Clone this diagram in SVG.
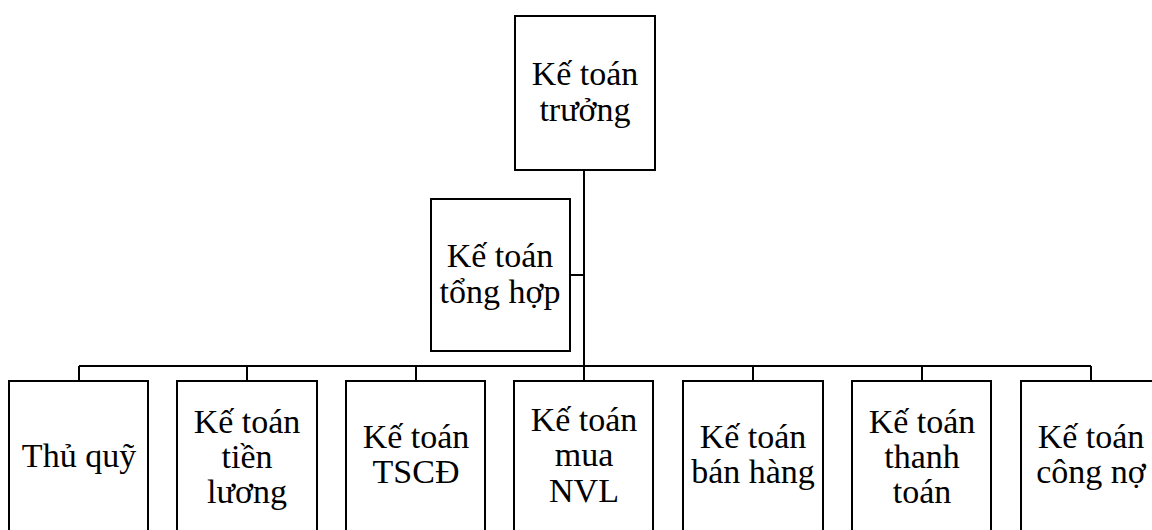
<svg xmlns="http://www.w3.org/2000/svg" width="1152" height="530" viewBox="0 0 1152 530">
<style>
.box{fill:#fff;stroke:#000;stroke-width:2}
.ln{stroke:#000;stroke-width:2;fill:none}
text{font-family:"Liberation Serif","Times New Roman",serif;font-size:34px;fill:#000;text-anchor:middle}
</style>
<rect width="1152" height="530" fill="#fff"/>
<g id="connectors">
<path class="ln" d="M584,170V366M570,275H584M79,366H1091M79,366V381M247,366V381M416,366V381M584,366V381M753,366V381M922,366V381M1091,366V381"/>
</g>
<g id="n-truong"><rect class="box" x="515" y="16" width="140" height="154"/><text x="585" y="85">Kế toán</text><text x="585" y="121">trưởng</text></g>
<g id="n-tonghop"><rect class="box" x="431" y="199" width="139" height="152"/><text x="500" y="267">Kế toán</text><text x="500" y="303">tổng hợp</text></g>
<g id="n-thuquy"><rect class="box" x="9" y="381" width="139" height="160"/><text x="79" y="467">Thủ quỹ</text></g>
<g id="n-tienluong"><rect class="box" x="177" y="381" width="140" height="160"/><text x="247" y="433">Kế toán</text><text x="247" y="468">tiền</text><text x="247" y="503">lương</text></g>
<g id="n-tscd"><rect class="box" x="346" y="381" width="139" height="160"/><text x="416" y="448">Kế toán</text><text x="416" y="483">TSCĐ</text></g>
<g id="n-muanvl"><rect class="box" x="514" y="381" width="139" height="160"/><text x="584" y="431">Kế toán</text><text x="584" y="466">mua</text><text x="584" y="502">NVL</text></g>
<g id="n-banhang"><rect class="box" x="683" y="381" width="140" height="160"/><text x="753" y="448">Kế toán</text><text x="753" y="483">bán hàng</text></g>
<g id="n-thanhtoan"><rect class="box" x="852" y="381" width="139" height="160"/><text x="922" y="433">Kế toán</text><text x="922" y="468">thanh</text><text x="922" y="503">toán</text></g>
<g id="n-congno"><rect class="box" x="1021" y="381" width="139" height="160"/><text x="1091" y="448">Kế toán</text><text x="1091" y="483">công nợ</text></g>
</svg>
